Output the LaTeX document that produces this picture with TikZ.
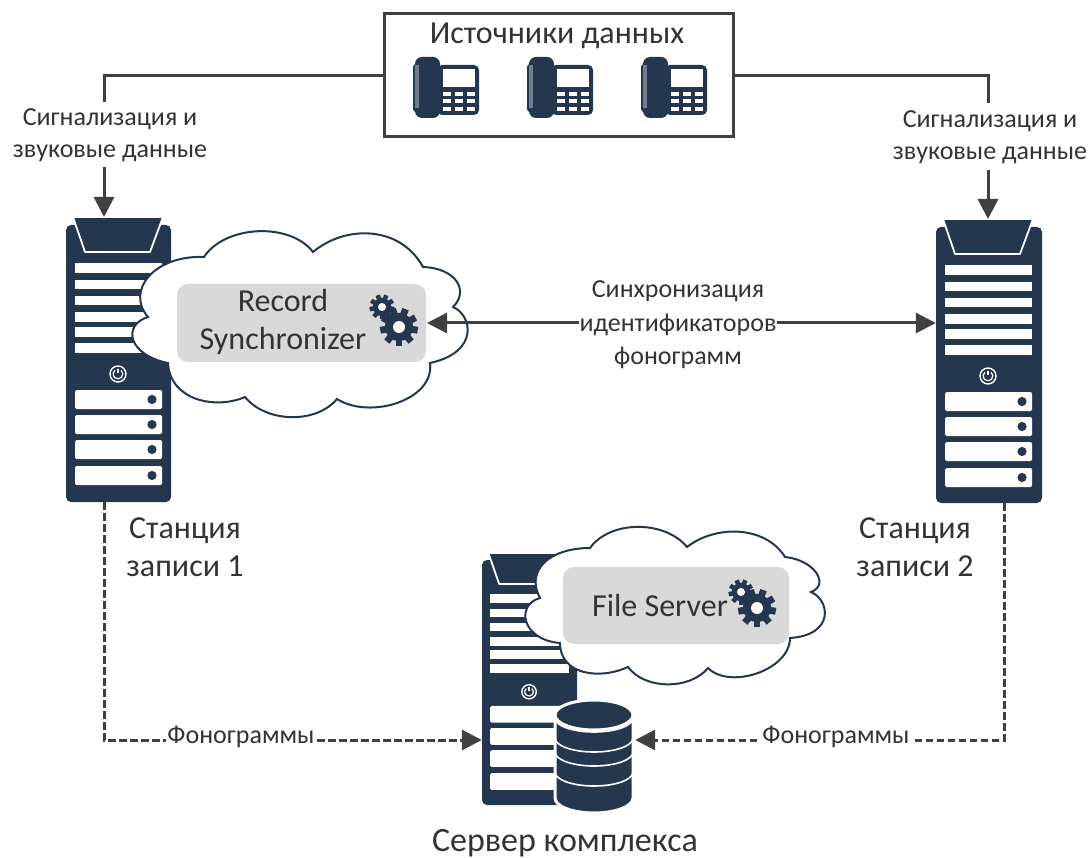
\documentclass[tikz,border=0pt]{standalone}
\usepackage{fontspec}
\setmainfont{Carlito}
\usetikzlibrary{arrows.meta,calc}
\definecolor{navy}{HTML}{25364F}
\definecolor{linegray}{HTML}{404040}
\definecolor{panel}{HTML}{D9D9D9}
\definecolor{txt}{HTML}{333333}
\tikzset{
  wire/.style={draw=linegray,line width=3pt},
  flow/.style={wire,-{Triangle[length=20pt,width=20pt]}},
  dflow/.style={wire,{Triangle[length=20pt,width=20pt]}-{Triangle[length=20pt,width=20pt]}},
  dashflow/.style={wire,dash pattern=on 7.5pt off 3.5pt,-{Triangle[length=20pt,width=20pt,sep=0pt]}},
  srvbody/.style={fill=navy,rounded corners=5pt,inner sep=0pt},
  cloudline/.style={draw=navy,fill=white,line width=2pt},
  panelbox/.style={fill=panel,rounded corners=11pt,inner sep=0pt},
  bigtext/.style={text=txt,font=\fontsize{32}{39}\selectfont,align=center,inner sep=0pt},
  midtext/.style={text=txt,font=\fontsize{32}{38}\selectfont,align=center,inner sep=0pt},
  smalltext/.style={text=txt,font=\fontsize{26}{32}\selectfont,align=center,inner sep=1pt},
}
\newcommand\serverface[5]{%
  \begin{scope}[shift={(#1,#2)},xscale=#3,yscale=#4]
    \draw[fill=navy,draw=white,line width=1.8pt,line join=round] (7,0) -- (97,0) -- (84,35) -- (19,35) -- cycle;
    \foreach \ya/\yb in {46/56,63/72,79/88,95/105,110/120,126/136}
      \fill[white] (9,\ya) rectangle (96,\yb);
    \draw[white,line width=1.4pt] (52,157) circle (8);
    \draw[white,line width=1.2pt] (52,157) ++(-50:4.8) arc[start angle=-50,end angle=230,radius=4.8];
    \draw[white,line width=1.2pt] (52,151.5) -- (52,156);
    \foreach \ya in {173,198,223,249}{
      \fill[white,rounded corners=1.5pt] (9,\ya) rectangle (96,\ya+19);
      \ifnum#5=1 \fill[navy] (86,\ya+9.5) circle (4.6);\fi
    }
  \end{scope}}
\newcommand\phoneicon[1]{%
  \begin{scope}[shift={(#1,0)}]
    \fill[navy,rounded corners=5pt] (437,65) rectangle (479,115);
    \fill[navy,rounded corners=7pt] (415,57) rectangle (440,118);
    \fill[navy,rounded corners=3pt] (413,64) rectangle (424,112);
    \fill[white!35!navy] (415,65) rectangle (419,108);
    \fill[white] (443,69) rectangle (475,87);
    \foreach \xa in {443,455,467}
      \foreach \ya in {92,99,107}
        \fill[white] (\xa,\ya) rectangle (\xa+8,\ya+4);
  \end{scope}}
\newcommand\gearicon[4]{%
  \fill[navy] (#1,#2) circle ({0.74*#3});
  \foreach \a in {0,40,...,320}
    \draw[navy,line width={0.36*#3 pt}] (#1,#2) ++(\a+10:{0.68*#3}) -- ++(\a+10:{0.32*#3});
  \fill[white] (#1,#2) circle (#4);}
\begin{document}
\begin{tikzpicture}[x=1pt,y=-1pt]
\useasboundingbox (0,0) rectangle (1089,858);

% source box
\node[draw=linegray,line width=3pt,fill=white,inner sep=0pt,minimum width=349pt,minimum height=123pt] (src) at (558.5,75.5) {};
\node[bigtext] (srctitle) at (557,36) {Источники данных};
\phoneicon{0}\phoneicon{114}\phoneicon{228}

% stations
\node[srvbody,minimum width=105pt,minimum height=277pt] (st1) at (118.5,363.5) {};
\node[srvbody,minimum width=106pt,minimum height=276pt] (st2) at (989,365) {};
\node[srvbody,minimum width=95pt,minimum height=245pt] (srv) at (529.5,682.5) {};
\serverface{66}{217}{1}{1}{1}
\serverface{936}{219}{1}{1}{1}
\serverface{482}{553}{0.905}{0.884}{0}

% clouds
\path[cloudline] (204,257) .. controls (225,225) and (290,222) .. (313,252)
  .. controls (345,225) and (400,225) .. (423,267)
  .. controls (455,268) and (470,290) .. (453,307)
  .. controls (472,315) and (480,352) .. (430,363)
  .. controls (435,400) and (370,420) .. (337,399)
  .. controls (315,425) and (265,422) .. (245,397)
  .. controls (215,410) and (170,400) .. (168,363)
  .. controls (128,355) and (122,325) .. (148,317)
  .. controls (125,290) and (155,255) .. (204,257) -- cycle;
\node[panelbox,minimum width=249pt,minimum height=78pt] (rsbox) at (301.5,323) {};
\node[midtext] (rstext) at (283,322) {Record\\Synchronizer};
\gearicon{399}{327}{19}{6}
\gearicon{382}{307}{12.5}{4}

\path[cloudline] (590,548) .. controls (610,520) and (665,520) .. (687,547)
  .. controls (715,525) and (765,525) .. (785,557)
  .. controls (815,560) and (830,585) .. (811,592)
  .. controls (830,600) and (835,635) .. (790,638)
  .. controls (790,670) and (730,690) .. (708,668)
  .. controls (690,690) and (645,690) .. (628,667)
  .. controls (600,680) and (560,675) .. (560,643)
  .. controls (522,640) and (515,605) .. (540,598)
  .. controls (525,570) and (550,548) .. (590,548) -- cycle;
\node[panelbox,minimum width=226pt,minimum height=77pt] (fsbox) at (676,605.5) {};
\node[midtext] (fstext) at (660,605) {File Server};
\gearicon{757}{608}{19}{6}
\gearicon{741}{592}{12.5}{4}

% database
\fill[navy,draw=white,line width=3pt] (555,715) -- (633,715)
     -- (633,798) arc[start angle=0,end angle=180,x radius=39,y radius=15] -- cycle;
\fill[navy,draw=white,line width=3pt] (594,715) ellipse (39 and 15);
\foreach \yy in {732,752,766,786}
  \draw[white,line width=1.6pt] (555,\yy-14) arc[start angle=180,end angle=360,x radius=39,y radius=-14];
\node[inner sep=0pt,minimum width=82pt,minimum height=113pt] (db) at (594,756.5) {};

% signalling
\coordinate (a1) at (104,102);
\coordinate (a2) at (988,103);
\coordinate (b1) at (104,167);
\coordinate (b2) at (988,170);
\draw[wire,line join=miter] (src.west) -| (a1);
\draw[wire,line join=miter] (src.east) -| (a2);
\node[smalltext] (sig1) at (110,135.5) {Сигнализация и\\звуковые данные};
\node[smalltext] (sig2) at (990,137) {Сигнализация и\\звуковые данные};
\coordinate (st1top) at (104,217);
\coordinate (st2top) at (988,219);
\draw[flow] (b1) -- (st1top);
\draw[flow] (b2) -- (st2top);

% sync
\coordinate (synca) at (427,323);
\draw[dflow] (synca) -- (st2.west |- synca);
\node[smalltext] (synca2) at (678,291) {Синхронизация};
\node[smalltext,fill=white,inner ysep=0pt] (syncb) at (678,325) {идентификаторов};
\node[smalltext] (syncc) at (678,358) {фонограмм};

% recordings
\coordinate (d1) at (104,502);
\coordinate (d1c) at (104,740);
\coordinate (d2) at (1004,503);
\coordinate (d2c) at (1004,740);
\draw[dashflow] (d1) -- (d1c) -- (srv.west |- d1c);
\draw[dashflow] (d2) -- (d2c) -- (db.east |- d2c);
\node[smalltext,fill=white,inner ysep=0pt] (fon1) at (241,737) {Фонограммы};
\node[smalltext,fill=white,inner ysep=0pt] (fon2) at (836,737) {Фонограммы};

\node[midtext] (name1) at (185,547.5) {Станция\\записи 1};
\node[midtext] (name2) at (915,547) {Станция\\записи 2};
\node[midtext,font=\fontsize{34}{38}\selectfont] (name3) at (565,843) {Сервер комплекса};
\end{tikzpicture}
\end{document}
